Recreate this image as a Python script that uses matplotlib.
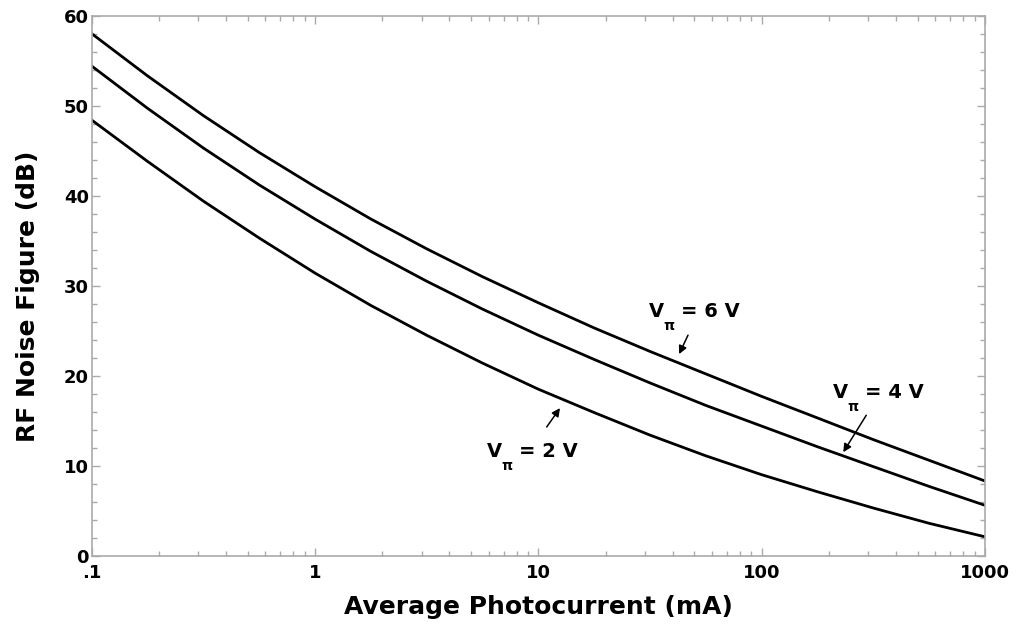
import numpy as np
import matplotlib.pyplot as plt
from matplotlib.ticker import FixedLocator, FixedFormatter, MultipleLocator, LogLocator

plt.rcParams['font.family'] = ['DejaVu Sans']
plt.rcParams['font.weight'] = 'bold'

# photocurrent in mA (quarter-decade steps)
current_ma = [0.1, 0.178, 0.316, 0.562, 1, 1.78, 3.16, 5.62, 10,
              17.8, 31.6, 56.2, 100, 178, 316, 562, 1000]

# noise figure in dB for each half-wave voltage
nf_vpi_6 = [58.0, 53.3, 48.9, 44.8, 41.0, 37.4, 34.1, 31.0, 28.1,
            25.3, 22.7, 20.2, 17.7, 15.3, 12.9, 10.6, 8.3]
nf_vpi_4 = [54.4, 49.7, 45.3, 41.2, 37.4, 33.8, 30.5, 27.4, 24.5,
            21.8, 19.2, 16.7, 14.4, 12.1, 9.9, 7.7, 5.6]
nf_vpi_2 = [48.4, 43.8, 39.4, 35.3, 31.4, 27.8, 24.5, 21.4, 18.5,
            15.9, 13.4, 11.1, 9.0, 7.1, 5.3, 3.6, 2.1]

x_ticks = [0.1, 1, 10, 100, 1000]
x_tick_labels = [".1", "1", "10", "100", "1000"]

# label text, anchor point and arrow (tail -> head) for each curve
curve_labels = ["6", "4", "2"]
label_pos = [(31.3, 26.5), (209, 17.5), (5.89, 11.0)]
arrow_tail = [(46.8, 24.5), (294, 15.6), (10.9, 14.3)]
arrow_head = [(42.7, 22.4), (232, 11.5), (12.5, 16.4)]

fig = plt.figure(figsize=(10.19, 6.26), dpi=100)
ax = fig.add_axes([0.090, 0.1123, 0.8766, 0.8627])

for nf in (nf_vpi_6, nf_vpi_4, nf_vpi_2):
    ax.plot(current_ma, nf, color="black", lw=2.0, solid_joinstyle="round")

ax.set_xscale("log")
ax.set_xlim(0.1, 1000)
ax.set_ylim(0, 60)
ax.xaxis.set_major_locator(FixedLocator(x_ticks))
ax.xaxis.set_major_formatter(FixedFormatter(x_tick_labels))
ax.xaxis.set_minor_locator(LogLocator(base=10, subs=np.arange(2, 10)))
ax.xaxis.set_minor_formatter(plt.NullFormatter())
ax.yaxis.set_major_locator(MultipleLocator(10))
ax.yaxis.set_minor_locator(MultipleLocator(2))

frame_gray = "#aaaaaa"
for sp in ax.spines.values():
    sp.set_color(frame_gray)
    sp.set_linewidth(1.2)
ax.tick_params(which="both", direction="in", top=True, right=True,
               color=frame_gray, width=1.0)
ax.tick_params(which="major", length=6, labelsize=13)
ax.tick_params(which="minor", length=3.5)
ax.tick_params(axis="x", which="major", pad=6)
ax.tick_params(axis="y", which="major", pad=2)

ax.set_xlabel("Average Photocurrent (mA)", fontsize=18, fontweight="bold", labelpad=9)
ax.set_ylabel("RF Noise Figure (dB)", fontsize=18, fontweight="bold")
ax.yaxis.set_label_coords(-0.058, 0.48)

arrow = dict(arrowstyle="-|>", color="black", lw=1.1, mutation_scale=12,
             shrinkA=0, shrinkB=0)
for name, pos, tail, head in zip(curve_labels, label_pos, arrow_tail, arrow_head):
    ax.annotate("", xy=head, xytext=tail, arrowprops=arrow)
    ax.annotate("V", xy=pos, xytext=(0, 0), textcoords="offset pixels",
                fontsize=14, fontweight="bold", va="baseline", ha="left")
    ax.annotate("\u03c0", xy=pos, xytext=(14, -13), textcoords="offset pixels",
                fontsize=10, fontweight="bold", va="baseline", ha="left")
    ax.annotate("= " + name + " V", xy=pos, xytext=(32, 0), textcoords="offset pixels",
                fontsize=14, fontweight="bold", va="baseline", ha="left")

fig.savefig("out.png", dpi=100)
